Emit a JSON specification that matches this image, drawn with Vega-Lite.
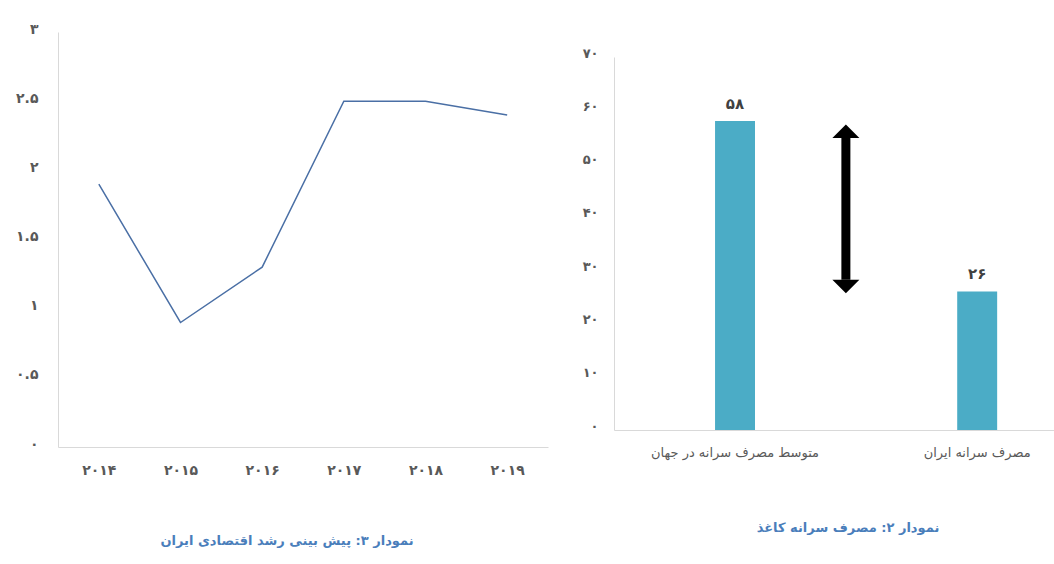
{
  "$schema": "https://vega.github.io/schema/vega-lite/v6.json",
  "background": "white",
  "padding": {"left": 15, "top": 22, "right": 0, "bottom": 5},
  "autosize": {"type": "pad"},
  "bounds": "flush",
  "center": true,
  "spacing": 66,
  "config": {
    "view": {"stroke": null},
    "font": "DejaVu Sans",
    "axis": {
      "domainColor": "#d9d9d9",
      "domainWidth": 1,
      "ticks": false,
      "grid": false,
      "labelColor": "#595959",
      "labelFont": "DejaVu Sans",
      "title": null
    }
  },
  "datasets": {
    "growth": [
      {"year": "۲۰۱۴", "growth": 1.9},
      {"year": "۲۰۱۵", "growth": 0.9},
      {"year": "۲۰۱۶", "growth": 1.3},
      {"year": "۲۰۱۷", "growth": 2.5},
      {"year": "۲۰۱۸", "growth": 2.5},
      {"year": "۲۰۱۹", "growth": 2.4}
    ],
    "paper": [
      {"group": "متوسط مصرف سرانه در جهان", "value": 58, "label": "۵۸"},
      {"group": "مصرف سرانه ایران", "value": 26, "label": "۲۶"}
    ],
    "arrow": [
      {"pos": 0.527, "from": 28.2, "to": 54.8}
    ],
    "arrowHeads": [
      {"pos": 0.527, "at": 54.8, "dir": "up"},
      {"pos": 0.527, "at": 28.2, "dir": "down"}
    ]
  },
  "hconcat": [
    {
      "width": 490,
      "height": 415,
      "title": {
        "text": "نمودار ۳: پیش بینی رشد اقتصادی ایران",
        "orient": "bottom",
        "anchor": "middle",
        "offset": 58,
        "dx": -16,
        "fontSize": 13,
        "fontWeight": "bold",
        "color": "#4a7ebb",
        "font": "DejaVu Sans"
      },
      "data": {"name": "growth"},
      "mark": {"type": "line", "color": "#4a6fa5", "strokeWidth": 1.5},
      "encoding": {
        "x": {
          "field": "year",
          "type": "ordinal",
          "sort": null,
          "axis": {"labelAngle": 0, "labelFontSize": 14, "labelFontWeight": "bold", "labelPadding": 16}
        },
        "y": {
          "field": "growth",
          "type": "quantitative",
          "scale": {"domain": [0, 3]},
          "axis": {
            "values": [0, 0.5, 1, 1.5, 2, 2.5, 3],
            "format": "~g",
            "labelFontSize": 14,
            "labelFontWeight": "bold",
            "labelPadding": 20,
            "labelOffset": -3,
            "labelExpr": "replace(replace(replace(replace(replace(replace(replace(replace(replace(replace(datum.label,regexp('0','g'),'۰'),regexp('1','g'),'۱'),regexp('2','g'),'۲'),regexp('3','g'),'۳'),regexp('4','g'),'۴'),regexp('5','g'),'۵'),regexp('6','g'),'۶'),regexp('7','g'),'۷'),regexp('8','g'),'۸'),regexp('9','g'),'۹')"
          }
        }
      }
    },
    {
      "width": 440,
      "height": 381,
      "title": {
        "text": "نمودار ۲: مصرف سرانه کاغذ",
        "orient": "bottom",
        "anchor": "middle",
        "offset": 63,
        "dx": 14,
        "fontSize": 13,
        "fontWeight": "bold",
        "color": "#4a7ebb",
        "font": "DejaVu Sans"
      },
      "layer": [
        {
          "data": {"name": "paper"},
          "encoding": {
            "x": {
              "field": "group",
              "type": "nominal",
              "sort": null,
              "scale": {"paddingInner": 0.835, "paddingOuter": 0.326, "align": 0.64},
              "axis": {"labelAngle": 0, "labelFontSize": 13, "labelPadding": 16, "labelLimit": 0}
            },
            "y": {
              "field": "value",
              "type": "quantitative",
              "scale": {"domain": [0, 70], "range": [381, 8]},
              "axis": {
                "values": [0, 10, 20, 30, 40, 50, 60, 70],
                "labelFontSize": 13,
                "labelFontWeight": "bold",
                "labelPadding": 16,
                "labelOffset": -4,
                "labelExpr": "replace(replace(replace(replace(replace(replace(replace(replace(replace(replace(datum.label,regexp('0','g'),'۰'),regexp('1','g'),'۱'),regexp('2','g'),'۲'),regexp('3','g'),'۳'),regexp('4','g'),'۴'),regexp('5','g'),'۵'),regexp('6','g'),'۶'),regexp('7','g'),'۷'),regexp('8','g'),'۸'),regexp('9','g'),'۹')"
              }
            }
          },
          "layer": [
            {"mark": {"type": "bar", "color": "#4bacc6"}},
            {
              "mark": {"type": "text", "baseline": "bottom", "dy": -9, "fontSize": 15, "fontWeight": "bold", "color": "#404040"},
              "encoding": {"text": {"field": "label", "type": "nominal"}}
            }
          ]
        },
        {
          "encoding": {
            "x": {"field": "pos", "type": "quantitative", "scale": {"domain": [0, 1]}, "axis": null}
          },
          "layer": [
            {
              "data": {"name": "arrow"},
              "mark": {"type": "rule", "color": "black", "strokeWidth": 9},
              "encoding": {
                "y": {"field": "from", "type": "quantitative"},
                "y2": {"field": "to"}
              }
            },
            {
              "data": {"name": "arrowHeads"},
              "mark": {"type": "point", "filled": true, "color": "black", "opacity": 1, "size": 729},
              "encoding": {
                "y": {"field": "at", "type": "quantitative"},
                "shape": {
                  "field": "dir",
                  "type": "nominal",
                  "scale": {"domain": ["up", "down"], "range": ["M-1,0L1,0L0,-1Z", "M-1,0L1,0L0,1Z"]},
                  "legend": null
                }
              }
            }
          ]
        }
      ],
      "resolve": {"scale": {"x": "independent"}}
    }
  ]
}
